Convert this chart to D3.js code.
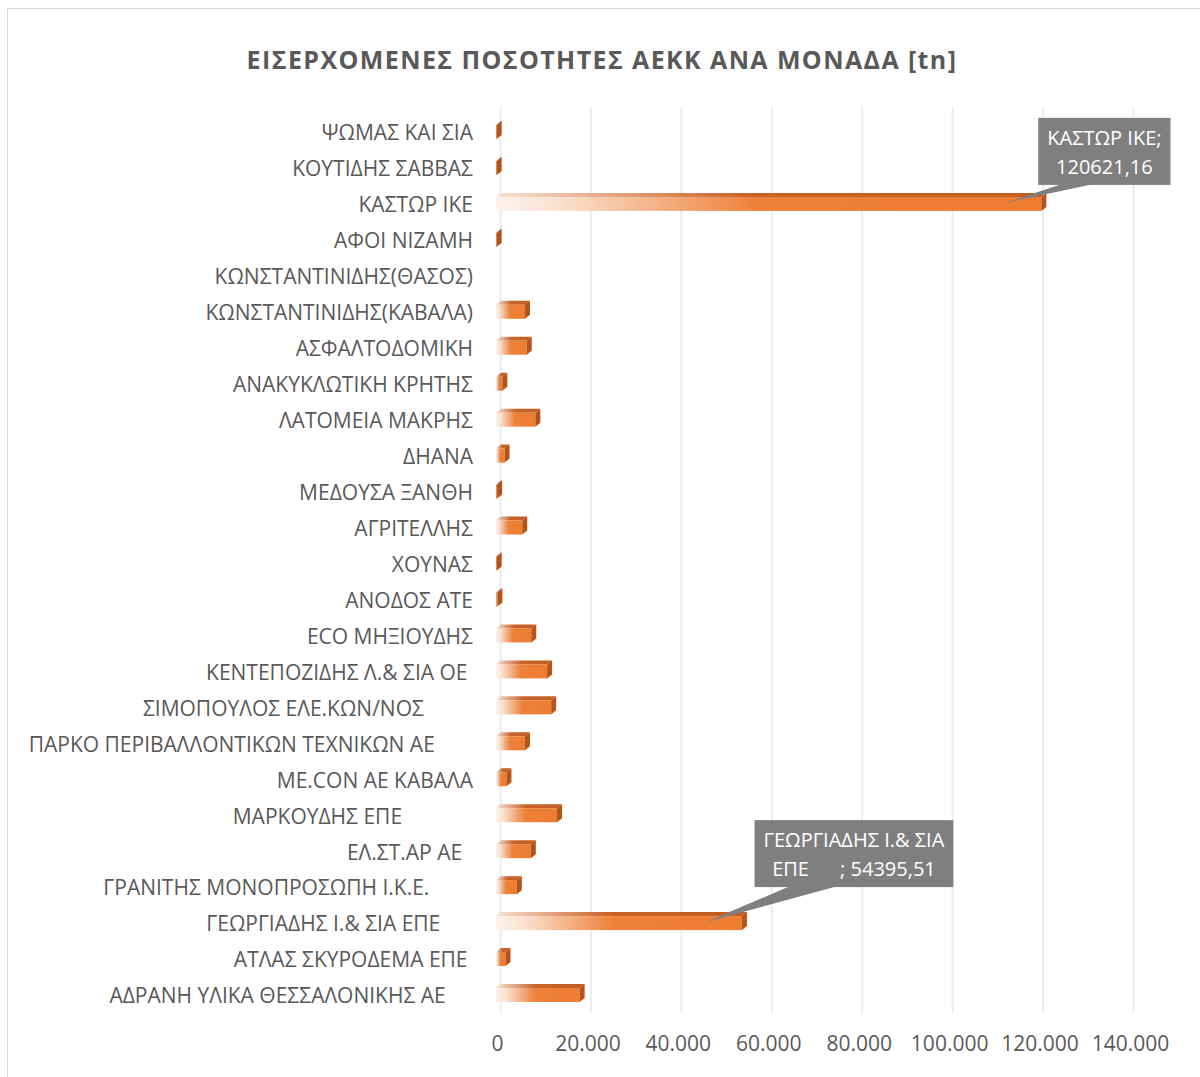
<!DOCTYPE html>
<html>
<head>
<meta charset="utf-8">
<script src="https://cdn.jsdelivr.net/npm/d3@7"></script>
<style>
	body { margin: 0; background: #fff; }
	text { font-family: "Open Sans", "DejaVu Sans", sans-serif; fill: #595959; }
	.cat text { white-space: pre; }
</style>
</head>
<body>
<svg id="chart" width="1200" height="1077"></svg>
<script>
// companies, top to bottom (trailing spaces are in the source labels)
var categories = [
	"ΨΩΜΑΣ ΚΑΙ ΣΙΑ",
	"ΚΟΥΤΙΔΗΣ ΣΑΒΒΑΣ",
	"ΚΑΣΤΩΡ ΙΚΕ",
	"ΑΦΟΙ ΝΙΖΑΜΗ",
	"ΚΩΝΣΤΑΝΤΙΝΙΔΗΣ(ΘΑΣΟΣ)",
	"ΚΩΝΣΤΑΝΤΙΝΙΔΗΣ(ΚΑΒΑΛΑ)",
	"ΑΣΦΑΛΤΟΔΟΜΙΚΗ",
	"ΑΝΑΚΥΚΛΩΤΙΚΗ ΚΡΗΤΗΣ",
	"ΛΑΤΟΜΕΙΑ ΜΑΚΡΗΣ",
	"ΔΗΑΝΑ",
	"ΜΕΔΟΥΣΑ ΞΑΝΘΗ",
	"ΑΓΡΙΤΕΛΛΗΣ",
	"ΧΟΥΝΑΣ",
	"ΑΝΟΔΟΣ ΑΤΕ",
	"ECO ΜΗΞΙΟΥΔΗΣ",
	"ΚΕΝΤΕΠΟΖΙΔΗΣ Λ.& ΣΙΑ ΟΕ ",
	"ΣΙΜΟΠΟΥΛΟΣ ΕΛΕ.ΚΩΝ/ΝΟΣ         ",
	"ΠΑΡΚΟ ΠΕΡΙΒΑΛΛΟΝΤΙΚΩΝ ΤΕΧΝΙΚΩΝ ΑΕ       ",
	"ΜΕ.CON ΑΕ ΚΑΒΑΛΑ",
	"ΜΑΡΚΟΥΔΗΣ ΕΠΕ             ",
	"ΕΛ.ΣΤ.ΑΡ ΑΕ  ",
	"ΓΡΑΝΙΤΗΣ ΜΟΝΟΠΡΟΣΩΠΗ Ι.Κ.Ε.        ",
	"ΓΕΩΡΓΙΑΔΗΣ Ι.& ΣΙΑ ΕΠΕ      ",
	"ΑΤΛΑΣ ΣΚΥΡΟΔΕΜΑ ΕΠΕ ",
	"ΑΔΡΑΝΗ ΥΛΙΚΑ ΘΕΣΣΑΛΟΝΙΚΗΣ ΑΕ     "
];

// incoming quantities [tn], same order (null = no bar)
var quantities = [
	150, 150, 120621.16, 150, null, 6400, 6800, 1400, 8700, 1900,
	250, 5800, 150, 300, 7800, 11300, 12200, 6400, 2300, 13500,
	7700, 4600, 54395.51, 2100, 18500
];

// labelled points
var calloutNames = ["ΚΑΣΤΩΡ ΙΚΕ", "ΓΕΩΡΓΙΑΔΗΣ Ι.& ΣΙΑ ΕΠΕ      "];

var xTicks = [0, 20000, 40000, 60000, 80000, 100000, 120000, 140000];

var titleText = "ΕΙΣΕΡΧΟΜΕΝΕΣ ΠΟΣΟΤΗΤΕΣ ΑΕΚΚ ΑΝΑ ΜΟΝΑΔΑ [tn]";

// callout placement relative to bar end (box centre x, box bottom y)
var calloutLayout = [
	{ dx: 59, dy: -20 },
	{ dx: 108, dy: -37 }
];

var data = categories.map(function(c, i){
	return { name: c, value: quantities[i] };
});

var grLocale = d3.formatLocale({
	decimal: ",",
	thousands: ".",
	grouping: [3],
	currency: ["", "€"]
});
var tickFormat = grLocale.format(",.0f");
var valueFormat = grLocale.format(".2f");

var svg = d3.select("#chart");

// outer chart frame
svg.append("rect")
	.attr("x", 7.5)
	.attr("y", 8.5)
	.attr("width", 1200)
	.attr("height", 1080)
	.attr("fill", "none")
	.attr("stroke", "#d9d9d9")
	.attr("stroke-width", 1);

// title
svg.append("text")
	.attr("x", 602)
	.attr("y", 69)
	.attr("text-anchor", "middle")
	.style("font-size", "25px")
	.style("font-weight", "bold")
	.style("letter-spacing", "1.4px")
	.text(titleText);

var xScale = d3.scaleLinear()
	.domain([0, 140000])
	.range([500, 1133]);

var yScale = d3.scaleBand()
	.domain(categories)
	.range([115, 1014]);

var plotTop = 107;
var plotBottom = 1013;

// gridlines
svg.append("g")
	.attr("class", "grid")
	.selectAll("line")
	.data(xTicks)
	.join("line")
	.attr("x1", d => xScale(d) + 0.5)
	.attr("x2", d => xScale(d) + 0.5)
	.attr("y1", plotTop)
	.attr("y2", plotBottom)
	.attr("stroke", "#ececec")
	.attr("stroke-width", 2);

// x axis labels
var xAxis = d3.axisBottom(xScale)
	.tickValues(xTicks)
	.tickFormat(tickFormat)
	.tickSize(0)
	.tickPadding(0);

var gx = svg.append("g")
	.attr("transform", "translate(-3," + 1032 + ")")
	.call(xAxis);
gx.select(".domain").remove();
gx.selectAll("text")
	.attr("dy", "0.9em")
	.style("font-family", "'Open Sans', sans-serif")
	.style("font-size", "21px")
	.attr("fill", "#595959");

// category labels
svg.append("g")
	.attr("class", "cat")
	.selectAll("text")
	.data(categories)
	.join("text")
	.attr("x", 473)
	.attr("y", d => yScale(d) + yScale.bandwidth() / 2)
	.attr("dy", "0.35em")
	.attr("text-anchor", "end")
	.style("font-size", "21px")
	.text(d => d);

// gradients for the 3d bars
var defs = svg.append("defs");
var front = defs.append("linearGradient")
	.attr("id", "gradFront");
front.append("stop").attr("offset", "0%").attr("stop-color", "#fdf3ec");
front.append("stop").attr("offset", "12%").attr("stop-color", "#fae0ce");
front.append("stop").attr("offset", "48%").attr("stop-color", "#ee8038");
front.append("stop").attr("offset", "100%").attr("stop-color", "#ed7d31");

var top3d = defs.append("linearGradient")
	.attr("id", "gradTop");
top3d.append("stop").attr("offset", "0%").attr("stop-color", "#f8e0d0");
top3d.append("stop").attr("offset", "45%").attr("stop-color", "#c9632a");
top3d.append("stop").attr("offset", "100%").attr("stop-color", "#c25d22");

// bar geometry (front face shifted left, depth up-right)
var depthX = 5;
var depthY = 4;
var faceH = 14;
var shift = -4;

var bars = svg.append("g")
	.attr("class", "bars")
	.selectAll("g")
	.data(data.filter(d => d.value !== null))
	.join("g");

bars.each(function(d){
	var g = d3.select(this);
	var cy = yScale(d.name) + yScale.bandwidth() / 2;
	var fx0 = xScale(0) + shift;
	var fx1 = xScale(d.value) + shift;
	var ft = cy - 8;

	// top face
	g.append("path")
		.attr("d", "M" + fx0 + "," + ft +
			"L" + fx1 + "," + ft +
			"L" + (fx1 + depthX) + "," + (ft - depthY) +
			"L" + (fx0 + depthX) + "," + (ft - depthY) + "Z")
		.attr("fill", "url(#gradTop)");

	// front face
	if (fx1 - fx0 > 0.5) {
		g.append("rect")
			.attr("x", fx0)
			.attr("y", ft)
			.attr("width", fx1 - fx0)
			.attr("height", faceH)
			.attr("fill", "url(#gradFront)");
	}

	// side face
	g.append("path")
		.attr("d", "M" + fx1 + "," + ft +
			"L" + (fx1 + depthX) + "," + (ft - depthY) +
			"L" + (fx1 + depthX) + "," + (ft + faceH - depthY) +
			"L" + fx1 + "," + (ft + faceH) + "Z")
		.attr("fill", "#ae5521");
});

// data callouts
var callouts = svg.append("g").attr("class", "callouts");
var maxLineW = 215;
var pad = 9;
var lineH = 29;

calloutNames.forEach(function(name, i){
	var d = data.find(e => e.name === name);
	var lay = calloutLayout[i];
	var cy = yScale(d.name) + yScale.bandwidth() / 2;
	var xEnd = xScale(d.value);
	var label = d.name + "; " + valueFormat(d.value);

	var g = callouts.append("g");
	var box = g.append("rect").attr("fill", "#7f7f7f");
	var wedge = g.append("path").attr("fill", "#7f7f7f");
	var txt = g.append("text")
		.attr("text-anchor", "middle")
		.style("font-size", "20px")
		.style("white-space", "pre")
		.style("fill", "#ffffff");

	// greedy word wrap
	var words = label.split(" ");
	var lines = [];
	var cur = "";
	var probe = txt.append("tspan");
	words.forEach(function(w){
		var test = cur === "" ? w : cur + " " + w;
		probe.text(test);
		if (probe.node().getComputedTextLength() > maxLineW && cur !== "") {
			lines.push(cur);
			cur = w;
		} else {
			cur = test;
		}
	});
	lines.push(cur);
	probe.remove();

	var widest = 0;
	lines.forEach(function(l){
		probe = txt.append("tspan").text(l);
		widest = Math.max(widest, probe.node().getComputedTextLength());
		probe.remove();
	});

	var bw = widest + pad * 2;
	var bh = lines.length * lineH + 9;
	var bx = xEnd + lay.dx - bw / 2;
	var by = cy + lay.dy - bh;

	box.attr("x", bx)
		.attr("y", by)
		.attr("width", bw)
		.attr("height", bh);

	var tipX = xEnd - 40;
	var tipY = cy - 2;
	wedge.attr("d", "M" + (bx + bw * 0.18) + "," + (by + bh - 1) +
		"L" + (bx + bw * 0.42) + "," + (by + bh - 1) +
		"L" + tipX + "," + tipY + "Z");

	txt.selectAll("tspan")
		.data(lines)
		.join("tspan")
		.attr("x", bx + bw / 2)
		.attr("y", (l, j) => by + 27 + j * lineH)
		.style("fill", "#ffffff")
		.text(l => l);
});
</script>
</body>
</html>
